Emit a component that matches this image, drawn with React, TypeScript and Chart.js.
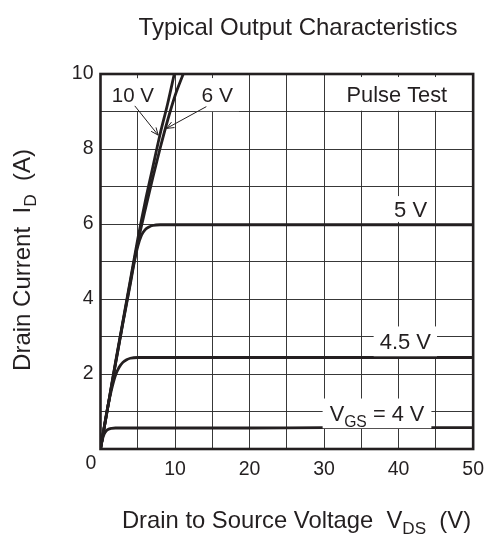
import React, { useEffect, useRef } from 'react';
import { Chart, registerables } from 'chart.js';

Chart.register(...registerables);

// ---- data ----
const VDS_10V = [0, 1, 2, 3, 4, 5, 6, 7, 8, 9, 9.9];
const ID_10V = [0, 1.15, 2.3, 3.4, 4.5, 5.6, 6.6, 7.5, 8.4, 9.2, 10];

const VDS_6V = [0, 1, 2, 3, 4, 5, 6, 7, 8, 9, 10, 11.1];
const ID_6V = [0, 1.14, 2.27, 3.37, 4.45, 5.5, 6.38, 7.22, 8.02, 8.76, 9.42, 10];

const VDS_5V = [0, 1, 2, 3, 4, 4.5, 5, 5.5, 6, 6.5, 7, 8, 10, 20, 30, 40, 50];
const ID_5V = [0, 1.13, 2.25, 3.35, 4.4, 4.95, 5.4, 5.7, 5.85, 5.92, 5.96, 5.98, 5.98, 5.98, 5.98, 5.98, 5.98];

const VDS_45V = [0, 0.5, 1, 1.5, 2, 2.5, 3, 3.5, 4, 5, 6, 10, 20, 30, 40, 50];
const ID_45V = [0, 0.6, 1.15, 1.6, 1.96, 2.18, 2.31, 2.38, 2.42, 2.44, 2.44, 2.44, 2.44, 2.44, 2.44, 2.44];

const VDS_4V = [0, 0.25, 0.5, 0.75, 1, 1.5, 2, 3, 10, 20, 30, 40, 50];
const ID_4V = [0, 0.25, 0.4, 0.48, 0.52, 0.55, 0.56, 0.56, 0.56, 0.56, 0.57, 0.57, 0.57];

const X_MIN = 0;
const X_MAX = 50;
const X_STEP = 5;
const X_LABEL_STEP = 10;
const Y_MIN = 0;
const Y_MAX = 10;
const Y_STEP = 1;
const Y_LABEL_STEP = 2;

const TITLE = 'Typical Output Characteristics';
const X_TITLE: [string, boolean][] = [['Drain to Source Voltage  V', false], ['DS', true], ['  (V)', false]];
const Y_TITLE: [string, boolean][] = [['Drain Current  I', false], ['D', true], ['  (A)', false]];
const ORIGIN_LABEL = '0';

// curve annotations: text, position in data units
const LABEL_10V = { text: [['10 V', false]] as [string, boolean][], x: 4.35, y: 9.45 };
const LABEL_6V = { text: [['6 V', false]] as [string, boolean][], x: 15.66, y: 9.45 };
const LABEL_PULSE = { text: [['Pulse Test', false]] as [string, boolean][], x: 39.76, y: 9.47 };
const LABEL_5V = { text: [['5 V', false]] as [string, boolean][], x: 41.6, y: 6.4 };
const LABEL_45V = { text: [['4.5 V', false]] as [string, boolean][], x: 40.9, y: 2.87 };
const LABEL_4V = { text: [['V', false], ['GS', true], [' = 4 V', false]] as [string, boolean][], x: 37.1, y: 0.95 };

const ARROW_10V = { x1: 4.6, y1: 9.15, x2: 7.74, y2: 8.37 };
const ARROW_6V = { x1: 14.2, y1: 9.13, x2: 8.86, y2: 8.55 };

// ---- styles ----
const FONT = '"Liberation Sans", Arial, Helvetica, sans-serif';
const INK = '#231f20';
const GRID = 'rgba(45,45,45,0.95)';

function pts(xs: number[], ys: number[]) {
  return xs.map((x, i) => ({ x, y: ys[i] }));
}

function measureSegs(ctx: CanvasRenderingContext2D, segs: [string, boolean][], size: number) {
  let total = 0;
  const widths = segs.map(([t, sub]) => {
    ctx.font = `${sub ? size * 0.72 : size}px ${FONT}`;
    const w = ctx.measureText(t).width;
    total += w;
    return w;
  });
  return { total, widths };
}

function drawSegs(ctx: CanvasRenderingContext2D, segs: [string, boolean][], cx: number, cy: number, size: number) {
  const { total, widths } = measureSegs(ctx, segs, size);
  let x = cx - total / 2;
  const base = cy + size * 0.358;
  ctx.textAlign = 'left';
  ctx.textBaseline = 'alphabetic';
  ctx.fillStyle = INK;
  segs.forEach(([t, sub], i) => {
    ctx.font = `${sub ? size * 0.72 : size}px ${FONT}`;
    ctx.fillText(t, x, sub ? base + size * 0.28 : base);
    x += widths[i];
  });
  return total;
}

const annotPlugin = {
  id: 'annot',
  afterDatasetsDraw(chart: any) {
    const ctx: CanvasRenderingContext2D = chart.ctx;
    const xs = chart.scales.x;
    const ys = chart.scales.y;
    const area = chart.chartArea;
    ctx.save();

    const boxed = (lab: { text: [string, boolean][]; x: number; y: number }, size: number, padX: number, padY: number) => {
      const cx = xs.getPixelForValue(lab.x);
      const cy = ys.getPixelForValue(lab.y);
      const { total } = measureSegs(ctx, lab.text, size);
      ctx.fillStyle = '#ffffff';
      const top = Math.max(area.top + 1.5, cy - size * 0.36 - padY);
      ctx.fillRect(cx - total / 2 - padX, top, total + 2 * padX, cy + size * 0.36 + padY - top);
      drawSegs(ctx, lab.text, cx, cy, size);
    };

    boxed(LABEL_10V, 20.5, 5, 9);
    boxed(LABEL_6V, 21, 6, 9);
    boxed(LABEL_PULSE, 21.8, 12, 9);
    boxed(LABEL_5V, 22, 5, 5);
    boxed(LABEL_45V, 22, 6, 7);
    boxed(LABEL_4V, 21.8, 7, 7);

    const arrow = (a: { x1: number; y1: number; x2: number; y2: number }) => {
      const x1 = xs.getPixelForValue(a.x1);
      const y1 = ys.getPixelForValue(a.y1);
      const x2 = xs.getPixelForValue(a.x2);
      const y2 = ys.getPixelForValue(a.y2);
      ctx.strokeStyle = INK;
      ctx.lineWidth = 1;
      ctx.beginPath();
      ctx.moveTo(x1, y1);
      ctx.lineTo(x2, y2);
      const ang = Math.atan2(y2 - y1, x2 - x1);
      const L = 8;
      for (const d of [0.4, -0.4]) {
        ctx.moveTo(x2, y2);
        ctx.lineTo(x2 - L * Math.cos(ang + d), y2 - L * Math.sin(ang + d));
      }
      ctx.stroke();
    };
    arrow(ARROW_10V);
    arrow(ARROW_6V);

    // frame
    ctx.strokeStyle = INK;
    ctx.lineWidth = 2.6;
    ctx.strokeRect(area.left, area.top, area.right - area.left, area.bottom - area.top);

    // titles
    ctx.fillStyle = INK;
    ctx.font = `24px ${FONT}`;
    ctx.textAlign = 'center';
    ctx.textBaseline = 'alphabetic';
    ctx.fillText(TITLE, 298, 35);

    drawSegs(ctx, X_TITLE, 296.5, 519, 23.8);

    ctx.save();
    ctx.translate(21, 260);
    ctx.rotate(-Math.PI / 2);
    drawSegs(ctx, Y_TITLE, 0, 0, 24);
    ctx.restore();

    // shared origin label
    ctx.fillStyle = INK;
    ctx.font = `19.5px ${FONT}`;
    ctx.textAlign = 'center';
    ctx.textBaseline = 'middle';
    ctx.fillText(ORIGIN_LABEL, area.left - 9.5, area.bottom + 15);

    ctx.restore();
  },
};

export default function App() {
  const ref = useRef<HTMLCanvasElement | null>(null);
  useEffect(() => {
    if (!ref.current) return;
    const mk = (xs: number[], ys: number[]) => ({
      data: pts(xs, ys),
      showLine: true,
      borderColor: INK,
      borderWidth: 2.8,
      pointRadius: 0,
      cubicInterpolationMode: 'monotone' as const,
      fill: false,
    });
    const chart = new Chart(ref.current, {
      type: 'scatter',
      data: {
        datasets: [
          mk(VDS_4V, ID_4V),
          mk(VDS_45V, ID_45V),
          mk(VDS_5V, ID_5V),
          mk(VDS_6V, ID_6V),
          mk(VDS_10V, ID_10V),
        ],
      },
      options: {
        animation: false,
        responsive: false,
        devicePixelRatio: 1,
        layout: { padding: { top: 74, right: 19, left: 0, bottom: 0 } },
        plugins: { legend: { display: false }, tooltip: { enabled: false }, title: { display: false } },
        scales: {
          x: {
            type: 'linear',
            min: X_MIN,
            max: X_MAX,
            afterFit: (s: any) => { s.height = 91; },
            grid: { color: GRID, lineWidth: 1, drawTicks: false },
            border: { display: false },
            ticks: {
              stepSize: X_STEP,
              padding: 9,
              color: INK,
              font: { family: FONT, size: 19.5 },
              maxRotation: 0,
              autoSkip: false,
              callback: (v: any) => (v !== 0 && v % X_LABEL_STEP === 0 ? String(v) : ''),
            },
          },
          y: {
            type: 'linear',
            min: Y_MIN,
            max: Y_MAX,
            afterFit: (s: any) => { s.width = 100.5; },
            grid: { color: GRID, lineWidth: 1, drawTicks: false },
            border: { display: false },
            ticks: {
              stepSize: Y_STEP,
              padding: 7,
              color: INK,
              font: { family: FONT, size: 19.5 },
              autoSkip: false,
              callback: (v: any) => (v !== 0 && v % Y_LABEL_STEP === 0 ? String(v) : ''),
            },
          },
        },
      },
      plugins: [annotPlugin],
    });
    return () => chart.destroy();
  }, []);
  return (
    <div style={{ position: 'fixed', left: 0, top: 0, width: 493, height: 540, background: '#fff' }}>
      <canvas ref={ref} width={493} height={540} style={{ width: 493, height: 540, display: 'block' }} />
    </div>
  );
}
